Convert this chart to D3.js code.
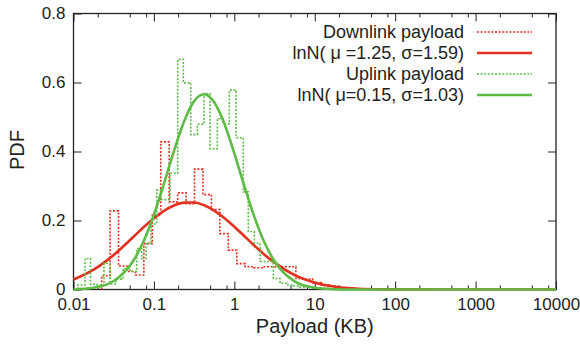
<!DOCTYPE html>
<html><head><meta charset="utf-8">
<script src="https://cdn.jsdelivr.net/npm/d3@7"></script>
<style>
body{margin:0;background:#fff}
svg{display:block}
text{font-family:"Liberation Sans",Arial,Helvetica,sans-serif;fill:#222}
</style>
</head><body>
<svg id="c" width="580" height="349"></svg>
<script>
// ---- data ----
const xMajorTicks = [0.01, 0.1, 1, 10, 100, 1000, 10000];
const xTickLabels = ["0.01", "0.1", "1", "10", "100", "1000", "10000"];
const xMinorMultipliers = [2, 5, 8];
const yTicks = [0, 0.2, 0.4, 0.6, 0.8];
const yTickLabels = ["0", "0.2", "0.4", "0.6", "0.8"];
const xTitle = "Payload (KB)";
const yTitle = "PDF";
const seriesNames = ["Downlink payload", "lnN( \u03bc =1.25, \u03c3=1.59)", "Uplink payload", "lnN( \u03bc=0.15, \u03c3=1.03)"];

// downlink histogram: bin edges (KB) and PDF per bin
const downlinkEdges = [0.02239, 0.02851, 0.03631, 0.04624, 0.05888, 0.07499, 0.09550, 0.1216, 0.1549, 0.1972,
  0.2512, 0.3199, 0.4074, 0.5188, 0.6607, 0.8414, 1.0715, 1.3646, 1.7378, 2.2131,
  2.8184, 3.5892, 4.5709, 5.8210, 7.4131, 9.4406, 12.023, 15.311, 19.498, 24.831, 31.623];
const downlinkPdf = [0.040, 0.228, 0.068, 0.052, 0.042, 0.133, 0.215, 0.428, 0.254, 0.280,
  0.249, 0.349, 0.275, 0.232, 0.162, 0.114, 0.075, 0.066, 0.063, 0.066,
  0.066, 0.066, 0.066, 0.032, 0.030, 0.020, 0.013, 0.010, 0.006, 0.004];

// uplink histogram
const uplinkEdges = [0.01137, 0.01390, 0.01627, 0.01959, 0.02393, 0.02843, 0.03381, 0.04130, 0.05047, 0.06109,
  0.07047, 0.07980, 0.09204, 0.1084, 0.1208, 0.1374, 0.1585, 0.1977, 0.2323, 0.2871,
  0.3467, 0.4198, 0.4989, 0.6152, 0.7295, 0.8670, 1.0495, 1.2942, 1.4928, 1.7742,
  2.0893, 2.5293, 3.0549, 3.6983, 4.4875, 5.4200, 6.5615, 9.5280, 15.488];
const uplinkPdf = [0.013, 0.090, 0.015, 0.012, 0.076, 0.016, 0.030, 0.061, 0.052, 0.119,
  0.090, 0.134, 0.190, 0.288, 0.260, 0.260, 0.337, 0.667, 0.599, 0.449,
  0.479, 0.568, 0.408, 0.495, 0.480, 0.578, 0.440, 0.283, 0.168, 0.134,
  0.081, 0.081, 0.032, 0.018, 0.013, 0.010, 0.007, 0.004];

// fitted curves
const fitX = [0.01, 0.01778, 0.03162, 0.05623, 0.07499, 0.1, 0.1334, 0.1778, 0.2371, 0.3162,
  0.4217, 0.5623, 0.7499, 1, 1.3335, 1.778, 2.371, 3.162, 5.623, 10,
  17.78, 31.62, 56.23, 100, 1000, 10000];
const downlinkFit = [0.0288, 0.0574, 0.1003, 0.1537, 0.1812, 0.2067, 0.2281, 0.2437, 0.2519, 0.2520,
  0.2440, 0.2286, 0.2073, 0.1820, 0.1545, 0.1270, 0.1010, 0.0778, 0.0418, 0.0197,
  0.0081, 0.0029, 0.0009, 0.0003, 0, 0];
const uplinkFit = [0.0008, 0.0052, 0.0246, 0.0854, 0.1414, 0.2166, 0.3068, 0.4020, 0.4870, 0.5460,
  0.5660, 0.5426, 0.4810, 0.3946, 0.2993, 0.2099, 0.1362, 0.0817, 0.0233, 0.0049,
  0.0007, 0.0001, 0, 0, 0, 0];

// ---- drawing ----
const m = {left: 73.5, right: 556, top: 13.5, bottom: 289.5};
const RED = "#e2311f", GREEN = "#5dbb46";
const TICK_FONT = 17;
const svg = d3.select("#c");
const x = d3.scaleLog().domain([0.01, 10000]).range([m.left, m.right]);
const y = d3.scaleLinear().domain([0, 0.8]).range([m.bottom, m.top]);

const minorTicks = [];
xMajorTicks.slice(0, -1).forEach(t => xMinorMultipliers.forEach(k => minorTicks.push(t * k)));

function styleAxis(g) {
  g.select(".domain").remove();
  g.selectAll("line").attr("stroke", "#222").attr("stroke-width", 1);
  g.selectAll("text").attr("font-size", TICK_FONT).attr("fill", "#222")
    .style("font-family", '"Liberation Sans",Arial,sans-serif');
}

// frame (drawn first so curves lie over it)
svg.append("rect").attr("x", m.left).attr("y", m.top)
  .attr("width", m.right - m.left).attr("height", m.bottom - m.top)
  .attr("fill", "none").attr("stroke", "#222").attr("stroke-width", 1.3);

// bottom axis
svg.append("g").attr("transform", `translate(0,${m.bottom})`)
  .call(d3.axisBottom(x).tickValues(xMajorTicks).tickFormat((d, i) => xTickLabels[i]).tickSizeInner(-8).tickSizeOuter(0).tickPadding(8))
  .call(styleAxis);
svg.append("g").attr("transform", `translate(0,${m.bottom})`)
  .call(d3.axisBottom(x).tickValues(minorTicks).tickFormat("").tickSizeInner(-4).tickSizeOuter(0))
  .call(styleAxis);
// top axis mirror
svg.append("g").attr("transform", `translate(0,${m.top})`)
  .call(d3.axisTop(x).tickValues(xMajorTicks).tickFormat("").tickSizeInner(-8).tickSizeOuter(0))
  .call(styleAxis);
svg.append("g").attr("transform", `translate(0,${m.top})`)
  .call(d3.axisTop(x).tickValues(minorTicks).tickFormat("").tickSizeInner(-4).tickSizeOuter(0))
  .call(styleAxis);
// left axis
svg.append("g").attr("transform", `translate(${m.left},0)`)
  .call(d3.axisLeft(y).tickValues(yTicks).tickFormat((d, i) => yTickLabels[i]).tickSizeInner(-8).tickSizeOuter(0).tickPadding(8))
  .call(styleAxis);
// right axis mirror
svg.append("g").attr("transform", `translate(${m.right},0)`)
  .call(d3.axisRight(y).tickValues(yTicks).tickFormat("").tickSizeInner(-8).tickSizeOuter(0))
  .call(styleAxis);

// histograms as steps
function stepPath(edges, vals) {
  const pts = [[edges[0], 0]];
  vals.forEach((v, i) => { pts.push([edges[i], v]); pts.push([edges[i + 1], v]); });
  pts.push([edges[edges.length - 1], 0]);
  return d3.line().x(d => x(d[0])).y(d => y(d[1]))(pts);
}
const fitLine = d3.line().x(d => x(d[0])).y(d => y(d[1])).curve(d3.curveMonotoneX);

const plot = svg.append("g");
plot.append("path").attr("d", stepPath(downlinkEdges, downlinkPdf))
  .attr("fill", "none").attr("stroke", RED).attr("stroke-width", 1.6).attr("stroke-dasharray", "2,1.6");
plot.append("path").attr("d", fitLine(fitX.map((v, i) => [v, downlinkFit[i]])))
  .attr("fill", "none").attr("stroke", RED).attr("stroke-width", 2.6);
plot.append("path").attr("d", stepPath(uplinkEdges, uplinkPdf))
  .attr("fill", "none").attr("stroke", GREEN).attr("stroke-width", 1.6).attr("stroke-dasharray", "2,1.6");
plot.append("path").attr("d", fitLine(fitX.map((v, i) => [v, uplinkFit[i]])))
  .attr("fill", "none").attr("stroke", GREEN).attr("stroke-width", 2.6);

// titles
svg.append("text").attr("x", (m.left + m.right) / 2).attr("y", 326)
  .attr("text-anchor", "middle").attr("dominant-baseline", "central")
  .attr("font-size", 20).text(xTitle);
svg.append("text").attr("transform", "translate(17,150) rotate(-90)")
  .attr("text-anchor", "middle").attr("dominant-baseline", "central")
  .attr("font-size", 20).text(yTitle);

// legend
const legRows = [32, 53, 74, 95];
const legStyles = [
  {c: RED, dash: "2,1.6", w: 1.6},
  {c: RED, dash: null, w: 2.6},
  {c: GREEN, dash: "2,1.6", w: 1.6},
  {c: GREEN, dash: null, w: 2.6}];
seriesNames.forEach((name, i) => {
  const g = svg.append("g");
  g.append("text").attr("x", 464).attr("y", legRows[i]).attr("text-anchor", "end")
    .attr("dominant-baseline", "central").attr("font-size", 18).attr("xml:space", "preserve").text(name);
  g.append("line").attr("x1", 477).attr("x2", 532).attr("y1", legRows[i]).attr("y2", legRows[i])
    .attr("stroke", legStyles[i].c).attr("stroke-width", legStyles[i].w)
    .attr("stroke-dasharray", legStyles[i].dash);
});
</script>
</body></html>
